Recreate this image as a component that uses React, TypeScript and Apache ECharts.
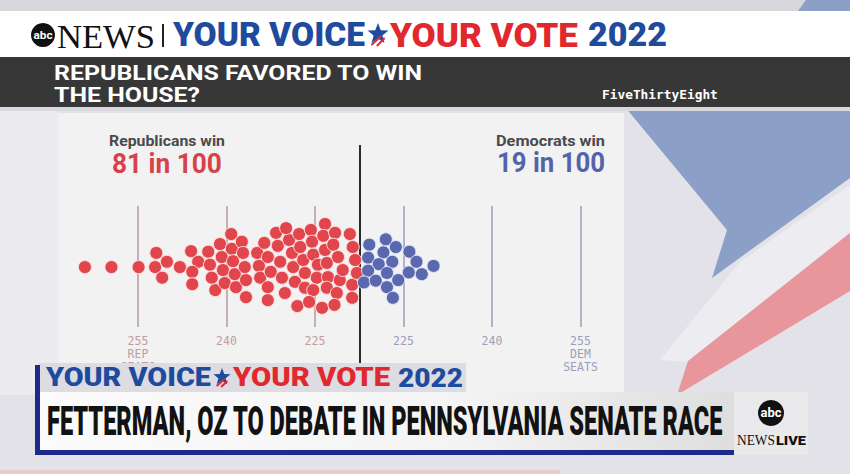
import React, { useEffect, useRef } from 'react';
import * as echarts from 'echarts';

// Simulated House outcomes, x = Democratic seats, y = swarm offset (seat units)
const repDots: [number, number][] = [
  [171.0, -0.2], [175.5, -0.2], [180.1, -0.2], [183.1, 2.2], [182.9, -0.2], [184.9, 0.7], [184.1, -2.0],
  [187.1, -0.2], [189.0, 2.5], [190.2, 0.7], [189.2, -1.0], [189.2, -3.1], [191.9, 2.4], [192.2, 0.2],
  [192.5, -2.0], [193.1, -4.1], [193.9, 3.7], [194.2, 1.5], [194.4, -0.7], [194.7, -2.9], [195.8, 5.4],
  [195.9, 2.9], [196.1, 0.8], [196.4, -1.4], [196.6, -3.6], [197.6, 4.1], [197.8, 2.2], [198.1, -0.2],
  [198.3, -2.4], [198.3, -5.3], [200.2, 2.2], [200.5, 0], [200.7, -2.0], [203.4, 5.6], [201.4, 3.9],
  [202.0, 1.5], [202.5, -1.0], [202.0, -3.6], [202.0, -5.8], [203.7, 3.4], [204.1, 0.7], [204.4, -2.0],
  [204.9, -4.6], [205.6, 4.4], [206.1, 2.2], [206.3, -0.2], [206.6, -2.7], [207.3, 5.4], [207.5, 3.2],
  [208.0, 1.0], [208.3, -1.2], [208.3, -3.7], [207.0, -6.8], [209.3, 6.1], [209.5, 4.1], [209.7, 1.9],
  [210.5, 0.2], [210.3, -2.0], [209.7, -4.1], [209.0, -6.1], [211.7, 7.1], [211.4, 5.1], [211.7, 2.7],
  [212.0, 0.5], [212.2, -1.9], [212.0, -3.7], [211.2, -7.1], [213.4, 5.6], [213.1, 3.6], [213.9, 1.5],
  [214.2, -2.4], [213.7, -4.6], [215.9, 5.4], [216.4, 3.2], [214.7, -0.7], [216.3, -3.2], [216.3, -5.4],
  [216.8, 1.0], [217.1, -1.2], [213.3, -6.6], [205.1, 6.4],
];
const demDots: [number, number][] = [
  [219.2, 3.6], [222.0, 4.5], [223.7, 3.2], [226.0, 2.4], [221.6, 2.3], [219.0, 1.4], [223.1, 0.7],
  [220.8, 0.3], [227.2, 0.7], [230.1, 0], [219.0, -0.8], [222.2, -1.2], [225.9, -1.1], [228.1, -1.4],
  [218.3, -2.8], [220.3, -2.5], [224.1, -2.4], [222.2, -3.6], [223.2, -5.4],
];
const seatTicks = [180, 195, 210, 225, 240, 255];
const tickLabels = ['255\nREP\nSEATS', '240', '225', '225', '240', '255\nDEM\nSEATS'];
const majority = 217.5;
const repTitle = 'Republicans win';
const repOdds = '81 in 100';
const demTitle = 'Democrats win';
const demOdds = '19 in 100';
const headlineTop = ['REPUBLICANS FAVORED TO WIN', 'THE HOUSE?'];
const sourceLabel = 'FiveThirtyEight';
const lowerThird = 'FETTERMAN, OZ TO DEBATE IN PENNSYLVANIA SENATE RACE';

const RED = '#e0464b';
const BLUE = '#5a68b0';
const TXT_RED = '#d6414a';
const TXT_BLUE = '#5463a9';
const ABC_BLUE = '#1f4b9e';
const ABC_RED = '#e2282f';

let ctx: CanvasRenderingContext2D | null = null;
function fit(text: string, font: string, target: number): number {
  if (!ctx) ctx = document.createElement('canvas').getContext('2d');
  if (!ctx) return 1;
  ctx.font = font;
  const w = ctx.measureText(text).width;
  return w > 0 ? target / w : 1;
}

function txt(text: string, x: number, y: number, font: string, fill: string, width: number, z: number, align = 'left', scaleOverride?: number) {
  const s = scaleOverride ?? fit(text, font, width);
  return {
    type: 'text', x, y, scaleX: s, z, silent: true,
    style: { text, font, fill, align, verticalAlign: 'middle' },
  };
}

function star(cx: number, cy: number, R: number, r: number): number[][] {
  const pts: number[][] = [];
  for (let i = 0; i < 10; i++) {
    const a = -Math.PI / 2 + (i * Math.PI) / 5;
    const rr = i % 2 === 0 ? R : r;
    pts.push([cx + rr * Math.cos(a), cy + rr * Math.sin(a)]);
  }
  return pts;
}

function voteLogo(x0: number, cy: number, font: string, widths: number[], gaps: number[], z: number) {
  const els: any[] = [];
  els.push(txt('YOUR VOICE', x0, cy, font, ABC_BLUE, widths[0], z));
  els.push({ type: 'polygon', z, silent: true, shape: { points: star(gaps[0], cy - 1, widths[3], widths[3] * 0.42) }, style: { fill: ABC_BLUE } });
  els.push({ type: 'line', z: z + 1, silent: true, shape: { x1: gaps[0] - widths[3] * 0.6, y1: cy + widths[3] * 0.9, x2: gaps[0] + widths[3] * 0.3, y2: cy + 1 }, style: { stroke: ABC_RED, lineWidth: 2 } });
  els.push({ type: 'line', z: z + 1, silent: true, shape: { x1: gaps[0] - widths[3] * 0.1, y1: cy + widths[3] * 1.0, x2: gaps[0] + widths[3] * 0.6, y2: cy + 3 }, style: { stroke: ABC_RED, lineWidth: 2 } });
  els.push(txt('YOUR VOTE', gaps[1], cy, font, ABC_RED, widths[1], z));
  els.push(txt('2022', gaps[2], cy, font, ABC_BLUE, widths[2], z));
  return els;
}

export default function App() {
  const ref = useRef<HTMLDivElement>(null);
  useEffect(() => {
    if (!ref.current) return;
    const chart = echarts.init(ref.current, undefined, { renderer: 'svg' });

    const bg: any[] = [
      { type: 'rect', z: -20, shape: { x: 0, y: 0, width: 850, height: 474 }, style: { fill: '#e2e2e8' } },
      { type: 'polygon', z: -19, shape: { points: [[0, 107], [58, 107], [58, 395], [0, 395]] }, style: { fill: '#ececf0' } },
      { type: 'polygon', z: -19, shape: { points: [[625, 107], [850, 107], [850, 178], [712, 278], [727, 230]] }, style: { fill: '#8ca0c7' } },
      { type: 'polygon', z: -19, shape: { points: [[850, 185], [850, 232], [687, 362], [660, 360], [740, 262]] }, style: { fill: '#ededf1' } },
      { type: 'polygon', z: -19, shape: { points: [[850, 233], [850, 291], [677, 395], [688, 361]] }, style: { fill: '#e9959c' } },
      { type: 'rect', z: -18, shape: { x: 0, y: 0, width: 850, height: 11 }, style: { fill: '#d6d6dd' } },
      { type: 'polygon', z: -17, shape: { points: [[806, 0], [850, 0], [850, 11], [798, 11]] }, style: { fill: '#8ca0c7' } },
      { type: 'rect', z: -18, shape: { x: 0, y: 11, width: 850, height: 46 }, style: { fill: '#ffffff' } },
      { type: 'rect', z: -18, shape: { x: 0, y: 57, width: 850, height: 50 }, style: { fill: '#373737' } },
      { type: 'rect', z: -18, shape: { x: 0, y: 107, width: 850, height: 4 }, style: { fill: '#d8d8de' } },
      { type: 'rect', z: -16, shape: { x: 58, y: 113, width: 566, height: 282 }, style: { fill: '#f2f2f2' } },
      { type: 'rect', z: -18, shape: { x: 0, y: 470, width: 560, height: 4 }, style: { fill: '#ecc9cc' } },
    ];

    const header: any[] = [
      { type: 'circle', z: 10, shape: { cx: 43, cy: 35, r: 12 }, style: { fill: '#111' } },
      txt('abc', 43, 35, 'bold 11px Roboto', '#fff', 19, 11, 'center'),
      txt('NEWS', 57, 36, '34px "Liberation Serif"', '#111', 98, 10),
      { type: 'line', z: 10, shape: { x1: 163, y1: 24, x2: 163, y2: 47 }, style: { stroke: '#222', lineWidth: 2 } },
      ...voteLogo(173, 35, '900 33px Roboto', [192, 188, 79, 11], [378, 390, 588], 10),
      txt(headlineTop[0], 54, 73, 'bold 21px Roboto', '#fff', 369, 10),
      txt(headlineTop[1], 54, 95, 'bold 21px Roboto', '#fff', 0, 10, 'left', fit(headlineTop[0], 'bold 21px Roboto', 369)),
      txt(sourceLabel, 602, 94, 'bold 13px "DejaVu Sans Mono"', '#fff', 116, 10),
      txt(repTitle, 109, 141, 'bold 15px Roboto', '#4a4a4a', 116, 10),
      txt(repOdds, 112, 163, 'bold 27px Roboto', TXT_RED, 110, 10),
      txt(demTitle, 605, 141, 'bold 15px Roboto', '#4a4a4a', 109, 10, 'right'),
      txt(demOdds, 605, 163, 'bold 27px Roboto', TXT_BLUE, 108, 10, 'right'),
    ];

    const banner: any[] = [
      { type: 'rect', z: 50, shape: { x: 38, y: 363, width: 428, height: 29 }, style: { fill: '#dcdce2' } },
      ...voteLogo(46, 378, '900 25px Roboto', [165, 157, 65, 9], [222, 233, 398], 51),
      {
        type: 'rect', z: 50, shape: { x: 38, y: 392, width: 696, height: 60 },
        style: {
          fill: new echarts.graphic.LinearGradient(0, 0, 1, 0, [
            { offset: 0, color: '#fbfbfb' }, { offset: 0.6, color: '#f4f4f4' }, { offset: 1, color: '#dedede' },
          ]),
        },
      },
      txt(lowerThird, 47, 422, '900 40px Roboto', '#121212', 676, 51),
      { type: 'rect', z: 52, shape: { x: 38, y: 450, width: 696, height: 5 }, style: { fill: '#1d2a8c' } },
      { type: 'rect', z: 52, shape: { x: 35, y: 365, width: 5, height: 90 }, style: { fill: '#1d2a8c' } },
      { type: 'rect', z: 50, shape: { x: 734, y: 392, width: 74, height: 63 }, style: { fill: '#e9e9ec' } },
      { type: 'circle', z: 51, shape: { cx: 771, cy: 413, r: 13 }, style: { fill: '#111' } },
      txt('abc', 771, 413, 'bold 12px Roboto', '#fff', 21, 52, 'center'),
      txt('NEWS', 737, 440, '14px "Liberation Serif"', '#111', 38, 51),
      txt('LIVE', 776, 440, '900 13px Roboto', '#111', 30, 51),
    ];

    const option: any = {
      animation: false,
      backgroundColor: '#e2e2e8',
      grid: [
        { left: 49.5, width: 590, top: 206, height: 121 },
        { left: 49.5, width: 590, top: 145, height: 250 },
      ],
      xAxis: [
        {
          type: 'value', gridIndex: 0, min: 165, max: 265, interval: 15, z: 3,
          axisLine: { show: false }, axisTick: { show: false }, splitLine: { show: false },
          axisLabel: {
            margin: 7,
            fontFamily: '"DejaVu Sans Mono"', fontSize: 11.5, lineHeight: 13,
            color: (v: number) => (v < majority ? '#c29ca2' : '#9b9fbd'),
            formatter: (v: number) => {
              const i = seatTicks.indexOf(v);
              return i >= 0 ? tickLabels[i] : '';
            },
          },
        },
        { type: 'value', gridIndex: 1, min: 165, max: 265, show: false },
      ],
      yAxis: [
        { type: 'value', gridIndex: 0, min: -10.35, max: 10.15, show: false },
        { type: 'value', gridIndex: 1, min: 0, max: 1, show: false },
      ],
      graphic: { elements: [...bg, ...header, ...banner] },
      series: [
        {
          type: 'scatter', xAxisIndex: 0, yAxisIndex: 0, data: [], z: 2, silent: true,
          markLine: {
            silent: true, symbol: ['none', 'none'], label: { show: false }, animation: false,
            data: seatTicks.map((t) => ({
              xAxis: t,
              lineStyle: { color: t < majority ? '#bd989d' : '#989dbd', width: 1.5, type: 'solid' },
            })),
          },
        },
        {
          type: 'scatter', xAxisIndex: 1, yAxisIndex: 1, data: [], z: 2, silent: true,
          markLine: {
            silent: true, symbol: ['none', 'none'], label: { show: false }, animation: false,
            data: [{ xAxis: majority, lineStyle: { color: '#2b2b2b', width: 2, type: 'solid' } }],
          },
        },
        {
          type: 'scatter', xAxisIndex: 0, yAxisIndex: 0, data: repDots, symbolSize: 13, z: 5, silent: true,
          itemStyle: { color: RED, borderColor: 'rgba(255,225,225,0.9)', borderWidth: 1, opacity: 1 },
        },
        {
          type: 'scatter', xAxisIndex: 0, yAxisIndex: 0, data: demDots, symbolSize: 13, z: 5, silent: true,
          itemStyle: { color: BLUE, borderColor: 'rgba(230,232,250,0.9)', borderWidth: 1, opacity: 1 },
        },
      ],
    };
    chart.setOption(option);
    return () => chart.dispose();
  }, []);
  return <div ref={ref} style={{ position: 'fixed', left: 0, top: 0, width: 850, height: 474 }} />;
}
